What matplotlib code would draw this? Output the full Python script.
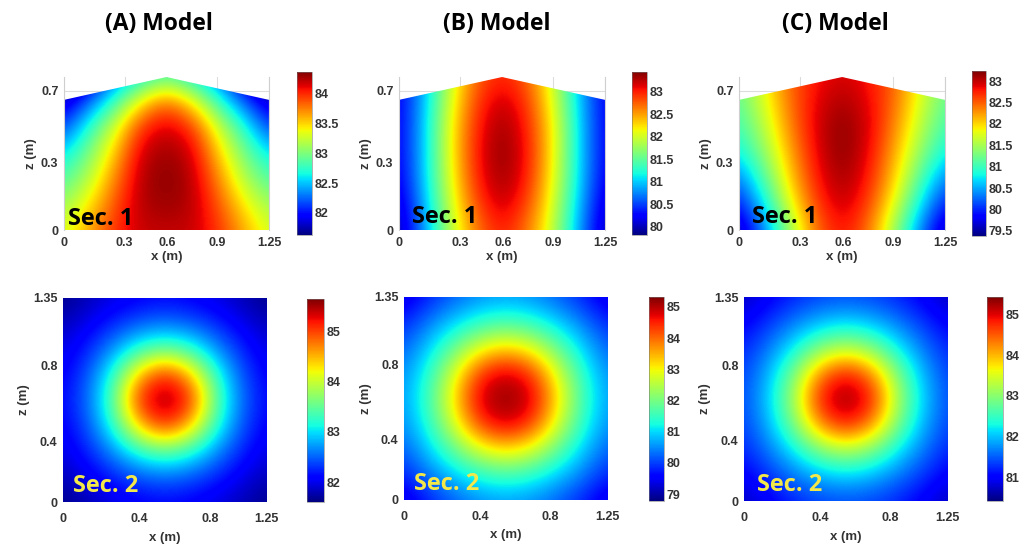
import numpy as np
import matplotlib.pyplot as plt
from matplotlib.patches import Polygon

# Sec. 1: vertical section under the gable roof (rows: z from 0 up to 0.77 m, columns: x from 0 to 1.25 m)
sec1_x = [0, 0.15625, 0.3125, 0.46875, 0.625, 0.78125, 0.9375, 1.09375, 1.25]
sec1_z = [0, 0.128, 0.257, 0.385, 0.513, 0.642, 0.77]
roof_x = [0, 0.625, 1.25]
roof_z = [0.655, 0.77, 0.655]

sec1_a = [
    [83.30, 83.65, 84.00, 84.20, 84.20, 84.20, 84.00, 83.65, 83.30],
    [83.10, 83.45, 83.90, 84.25, 84.30, 84.25, 83.90, 83.45, 83.10],
    [82.85, 83.20, 83.75, 84.25, 84.35, 84.25, 83.75, 83.20, 82.85],
    [82.58, 83.00, 83.55, 84.20, 84.30, 84.20, 83.55, 83.00, 82.58],
    [82.15, 82.75, 83.30, 84.00, 84.20, 84.00, 83.30, 82.75, 82.15],
    [81.80, 82.25, 82.80, 83.45, 83.85, 83.45, 82.80, 82.25, 81.80],
    [81.40, 81.75, 82.25, 82.60, 82.85, 82.60, 82.25, 81.75, 81.40],
]
sec1_b = [
    [79.95, 80.80, 81.90, 82.65, 83.05, 82.65, 81.90, 80.80, 79.95],
    [80.05, 80.90, 82.00, 82.85, 83.25, 82.85, 82.00, 80.90, 80.05],
    [80.15, 81.00, 82.10, 83.00, 83.38, 83.00, 82.10, 81.00, 80.15],
    [80.20, 81.00, 82.15, 83.05, 83.42, 83.05, 82.15, 81.00, 80.20],
    [80.20, 81.00, 82.15, 83.00, 83.38, 83.00, 82.15, 81.00, 80.20],
    [80.20, 80.95, 82.05, 82.90, 83.25, 82.90, 82.05, 80.95, 80.20],
    [80.20, 80.90, 81.95, 82.75, 83.00, 82.75, 81.95, 80.90, 80.20],
]
sec1_c = [
    [79.50, 80.35, 81.45, 82.45, 82.85, 82.45, 81.45, 80.35, 79.50],
    [79.90, 80.75, 81.80, 82.65, 83.02, 82.65, 81.80, 80.75, 79.90],
    [80.30, 81.10, 82.05, 82.80, 83.14, 82.80, 82.05, 81.10, 80.30],
    [80.75, 81.40, 82.20, 82.90, 83.21, 82.90, 82.20, 81.40, 80.75],
    [81.00, 81.60, 82.35, 82.95, 83.20, 82.95, 82.35, 81.60, 81.00],
    [81.15, 81.75, 82.45, 82.90, 83.10, 82.90, 82.45, 81.75, 81.15],
    [81.25, 81.85, 82.50, 82.80, 82.95, 82.80, 82.50, 81.85, 81.25],
]

# Sec. 2: square section (rows: z from 0 to 1.35 m, columns: x from 0 to 1.25 m)
sec2_x = [0, 0.15625, 0.3125, 0.46875, 0.625, 0.78125, 0.9375, 1.09375, 1.25]
sec2_z = [0, 0.16875, 0.3375, 0.50625, 0.675, 0.84375, 1.0125, 1.18125, 1.35]

sec2_a = [
    [81.65, 81.80, 81.95, 82.05, 82.10, 82.05, 81.95, 81.80, 81.65],
    [81.80, 82.00, 82.25, 82.45, 82.55, 82.45, 82.25, 82.00, 81.80],
    [81.95, 82.25, 82.70, 83.25, 83.50, 83.25, 82.70, 82.25, 81.95],
    [82.05, 82.45, 83.25, 84.50, 85.20, 84.50, 83.25, 82.45, 82.05],
    [82.10, 82.55, 83.50, 85.20, 85.62, 85.20, 83.50, 82.55, 82.10],
    [82.05, 82.45, 83.25, 84.50, 85.20, 84.50, 83.25, 82.45, 82.05],
    [81.95, 82.25, 82.70, 83.25, 83.50, 83.25, 82.70, 82.25, 81.95],
    [81.80, 82.00, 82.25, 82.45, 82.55, 82.45, 82.25, 82.00, 81.80],
    [81.65, 81.80, 81.95, 82.05, 82.10, 82.05, 81.95, 81.80, 81.65],
]
sec2_b = [
    [79.30, 79.80, 80.20, 80.50, 80.60, 80.50, 80.20, 79.80, 79.30],
    [79.80, 80.40, 80.95, 81.40, 81.60, 81.40, 80.95, 80.40, 79.80],
    [80.20, 80.95, 81.90, 82.85, 83.25, 82.85, 81.90, 80.95, 80.20],
    [80.50, 81.40, 82.85, 84.40, 84.95, 84.40, 82.85, 81.40, 80.50],
    [80.60, 81.60, 83.25, 84.95, 85.25, 84.95, 83.25, 81.60, 80.60],
    [80.50, 81.40, 82.85, 84.40, 84.95, 84.40, 82.85, 81.40, 80.50],
    [80.20, 80.95, 81.90, 82.85, 83.25, 82.85, 81.90, 80.95, 80.20],
    [79.80, 80.40, 80.95, 81.40, 81.60, 81.40, 80.95, 80.40, 79.80],
    [79.30, 79.80, 80.20, 80.50, 80.60, 80.50, 80.20, 79.80, 79.30],
]
sec2_c = [
    [80.70, 80.95, 81.20, 81.35, 81.40, 81.35, 81.20, 80.95, 80.70],
    [80.95, 81.30, 81.65, 81.95, 82.10, 81.95, 81.65, 81.30, 80.95],
    [81.20, 81.65, 82.25, 82.95, 83.25, 82.95, 82.25, 81.65, 81.20],
    [81.35, 81.95, 82.95, 84.30, 84.95, 84.30, 82.95, 81.95, 81.35],
    [81.40, 82.10, 83.25, 84.95, 85.40, 84.95, 83.25, 82.10, 81.40],
    [81.35, 81.95, 82.95, 84.30, 84.95, 84.30, 82.95, 81.95, 81.35],
    [81.20, 81.65, 82.25, 82.95, 83.25, 82.95, 82.25, 81.65, 81.20],
    [80.95, 81.30, 81.65, 81.95, 82.10, 81.95, 81.65, 81.30, 80.95],
    [80.70, 80.95, 81.20, 81.35, 81.40, 81.35, 81.20, 80.95, 80.70],
]

titles = ['(A) Model', '(B) Model', '(C) Model']
sec1_limits = [(81.63, 84.37), (79.82, 83.44), (79.38, 83.23)]
sec2_limits = [(81.60, 85.66), (78.78, 85.32), (80.41, 85.44)]
sec1_cticks = [[82, 82.5, 83, 83.5, 84],
               [80, 80.5, 81, 81.5, 82, 82.5, 83],
               [79.5, 80, 80.5, 81, 81.5, 82, 82.5, 83]]
sec2_cticks = [[82, 83, 84, 85],
               [79, 80, 81, 82, 83, 84, 85],
               [81, 82, 83, 84, 85]]

# axis tick labels and where they sit along the axes
sec1_xticks = [0, 0.37, 0.63, 0.935, 1.25]
sec1_xlabels = ['0', '0.3', '0.6', '0.9', '1.25']
sec1_zticks = [0, 0.342, 0.7]
sec1_zlabels = ['0', '0.3', '0.7']
sec2_xticks = [0, 0.47, 0.90, 1.25]
sec2_xlabels = ['0', '0.4', '0.8', '1.25']
sec2_zticks = [0, 0.40, 0.90, 1.35]
sec2_zlabels = ['0', '0.4', '0.8', '1.35']

plt.rcParams['font.family'] = ['Liberation Sans', 'DejaVu Sans']
plt.rcParams['font.weight'] = 'bold'
tick_color = '#333333'
head_font = ['Open Sans', 'DejaVu Sans']

fig = plt.figure(figsize=(10.27, 5.49), dpi=100)

top_pos = [[0.0623, 0.581, 0.1996, 0.2787], [0.3885, 0.581, 0.2006, 0.2787], [0.7196, 0.581, 0.2006, 0.2787]]
top_cpos = [[0.2892, 0.572, 0.0146, 0.297], [0.6154, 0.572, 0.0146, 0.297], [0.9464, 0.570, 0.0136, 0.300]]
bot_pos = [[0.0613, 0.0856, 0.1986, 0.3716], [0.3934, 0.0893, 0.1977, 0.3698], [0.7244, 0.0874, 0.1977, 0.3716]]
bot_cpos = [[0.2989, 0.0856, 0.0166, 0.3698], [0.6319, 0.0874, 0.0146, 0.3716], [0.961, 0.0874, 0.0156, 0.3716]]
title_x = [0.155, 0.484, 0.813]
sec1_text = [(0.02, 0.03), (0.062, 0.045), (0.062, 0.045)]
sec2_text = [(0.05, 0.05), (0.05, 0.05), (0.063, 0.05)]


def field_image(ax, field, xs, zs, lims):
    dx = (xs[-1] - xs[0]) / (len(xs) - 1)
    dz = (zs[-1] - zs[0]) / (len(zs) - 1)
    ext = [xs[0] - dx / 2, xs[-1] + dx / 2, zs[0] - dz / 2, zs[-1] + dz / 2]
    im = ax.imshow(np.array(field), origin='lower', extent=ext, cmap='jet',
                   vmin=lims[0], vmax=lims[1], interpolation='bicubic',
                   aspect='auto', zorder=1)
    ax.set_xlim(xs[0], xs[-1])
    ax.set_ylim(zs[0], zs[-1])
    return im


def style_axes(ax, xt, xl, zt, zl, xlab_y, zlab_x, xpad):
    ax.set_xticks(xt)
    ax.set_xticklabels(xl)
    ax.set_yticks(zt)
    ax.set_yticklabels(zl)
    ax.tick_params(length=0, labelsize=9, colors=tick_color, pad=4)
    ax.tick_params(axis='x', pad=xpad)
    ax.set_xlabel('x (m)', fontsize=9.5, fontweight='bold', color=tick_color)
    ax.set_ylabel('z (m)', fontsize=9.5, fontweight='bold', color=tick_color)
    ax.xaxis.set_label_coords(0.5, xlab_y)
    ax.yaxis.set_label_coords(zlab_x, 0.5)


def style_cbar(im, cax, ticks):
    cb = fig.colorbar(im, cax=cax)
    cb.set_ticks(ticks)
    cb.set_ticklabels([('%g' % t) for t in ticks])
    cb.ax.tick_params(length=0, labelsize=9, colors=tick_color, pad=2)
    cb.outline.set_linewidth(0.4)
    cb.outline.set_edgecolor('#777777')


sec1_fields = [sec1_a, sec1_b, sec1_c]
sec2_fields = [sec2_a, sec2_b, sec2_c]

for i in range(3):
    # Sec. 1 with the gable roof outline
    ax = fig.add_axes(top_pos[i])
    im = field_image(ax, sec1_fields[i], sec1_x, sec1_z, sec1_limits[i])
    outline = [(sec1_x[0], 0)] + list(zip(roof_x, roof_z)) + [(sec1_x[-1], 0)]
    im.set_clip_path(Polygon(outline, closed=True, transform=ax.transData))
    ax.set_axisbelow(True)
    ax.grid(True, color='#dcdcdc', linewidth=0.8)
    for side in ['top', 'bottom']:
        ax.spines[side].set_visible(False)
    for side in ['left', 'right']:
        ax.spines[side].set_color('#cfcfcf')
        ax.spines[side].set_linewidth(0.8)
    style_axes(ax, sec1_xticks, sec1_xlabels, sec1_zticks, sec1_zlabels, -0.14, -0.13, 5)
    ax.text(sec1_text[i][0], sec1_text[i][1], 'Sec. 1', transform=ax.transAxes,
            fontsize=17, fontweight='bold', family=head_font, color='black',
            va='baseline', zorder=3)
    style_cbar(im, fig.add_axes(top_cpos[i]), sec1_cticks[i])

    # Sec. 2
    ax = fig.add_axes(bot_pos[i])
    im = field_image(ax, sec2_fields[i], sec2_x, sec2_z, sec2_limits[i])
    for side in ax.spines:
        ax.spines[side].set_visible(False)
    style_axes(ax, sec2_xticks, sec2_xlabels, sec2_zticks, sec2_zlabels, -0.145, -0.16, 8)
    ax.text(sec2_text[i][0], sec2_text[i][1], 'Sec. 2', transform=ax.transAxes,
            fontsize=17, fontweight='bold', family=head_font, color='#f3e84a',
            va='baseline', zorder=3)
    style_cbar(im, fig.add_axes(bot_cpos[i]), sec2_cticks[i])

    fig.text(title_x[i], 0.956, titles[i], ha='center', va='center',
             fontsize=16.5, fontweight='bold', family=head_font)

fig.savefig('out.png', dpi=100)
